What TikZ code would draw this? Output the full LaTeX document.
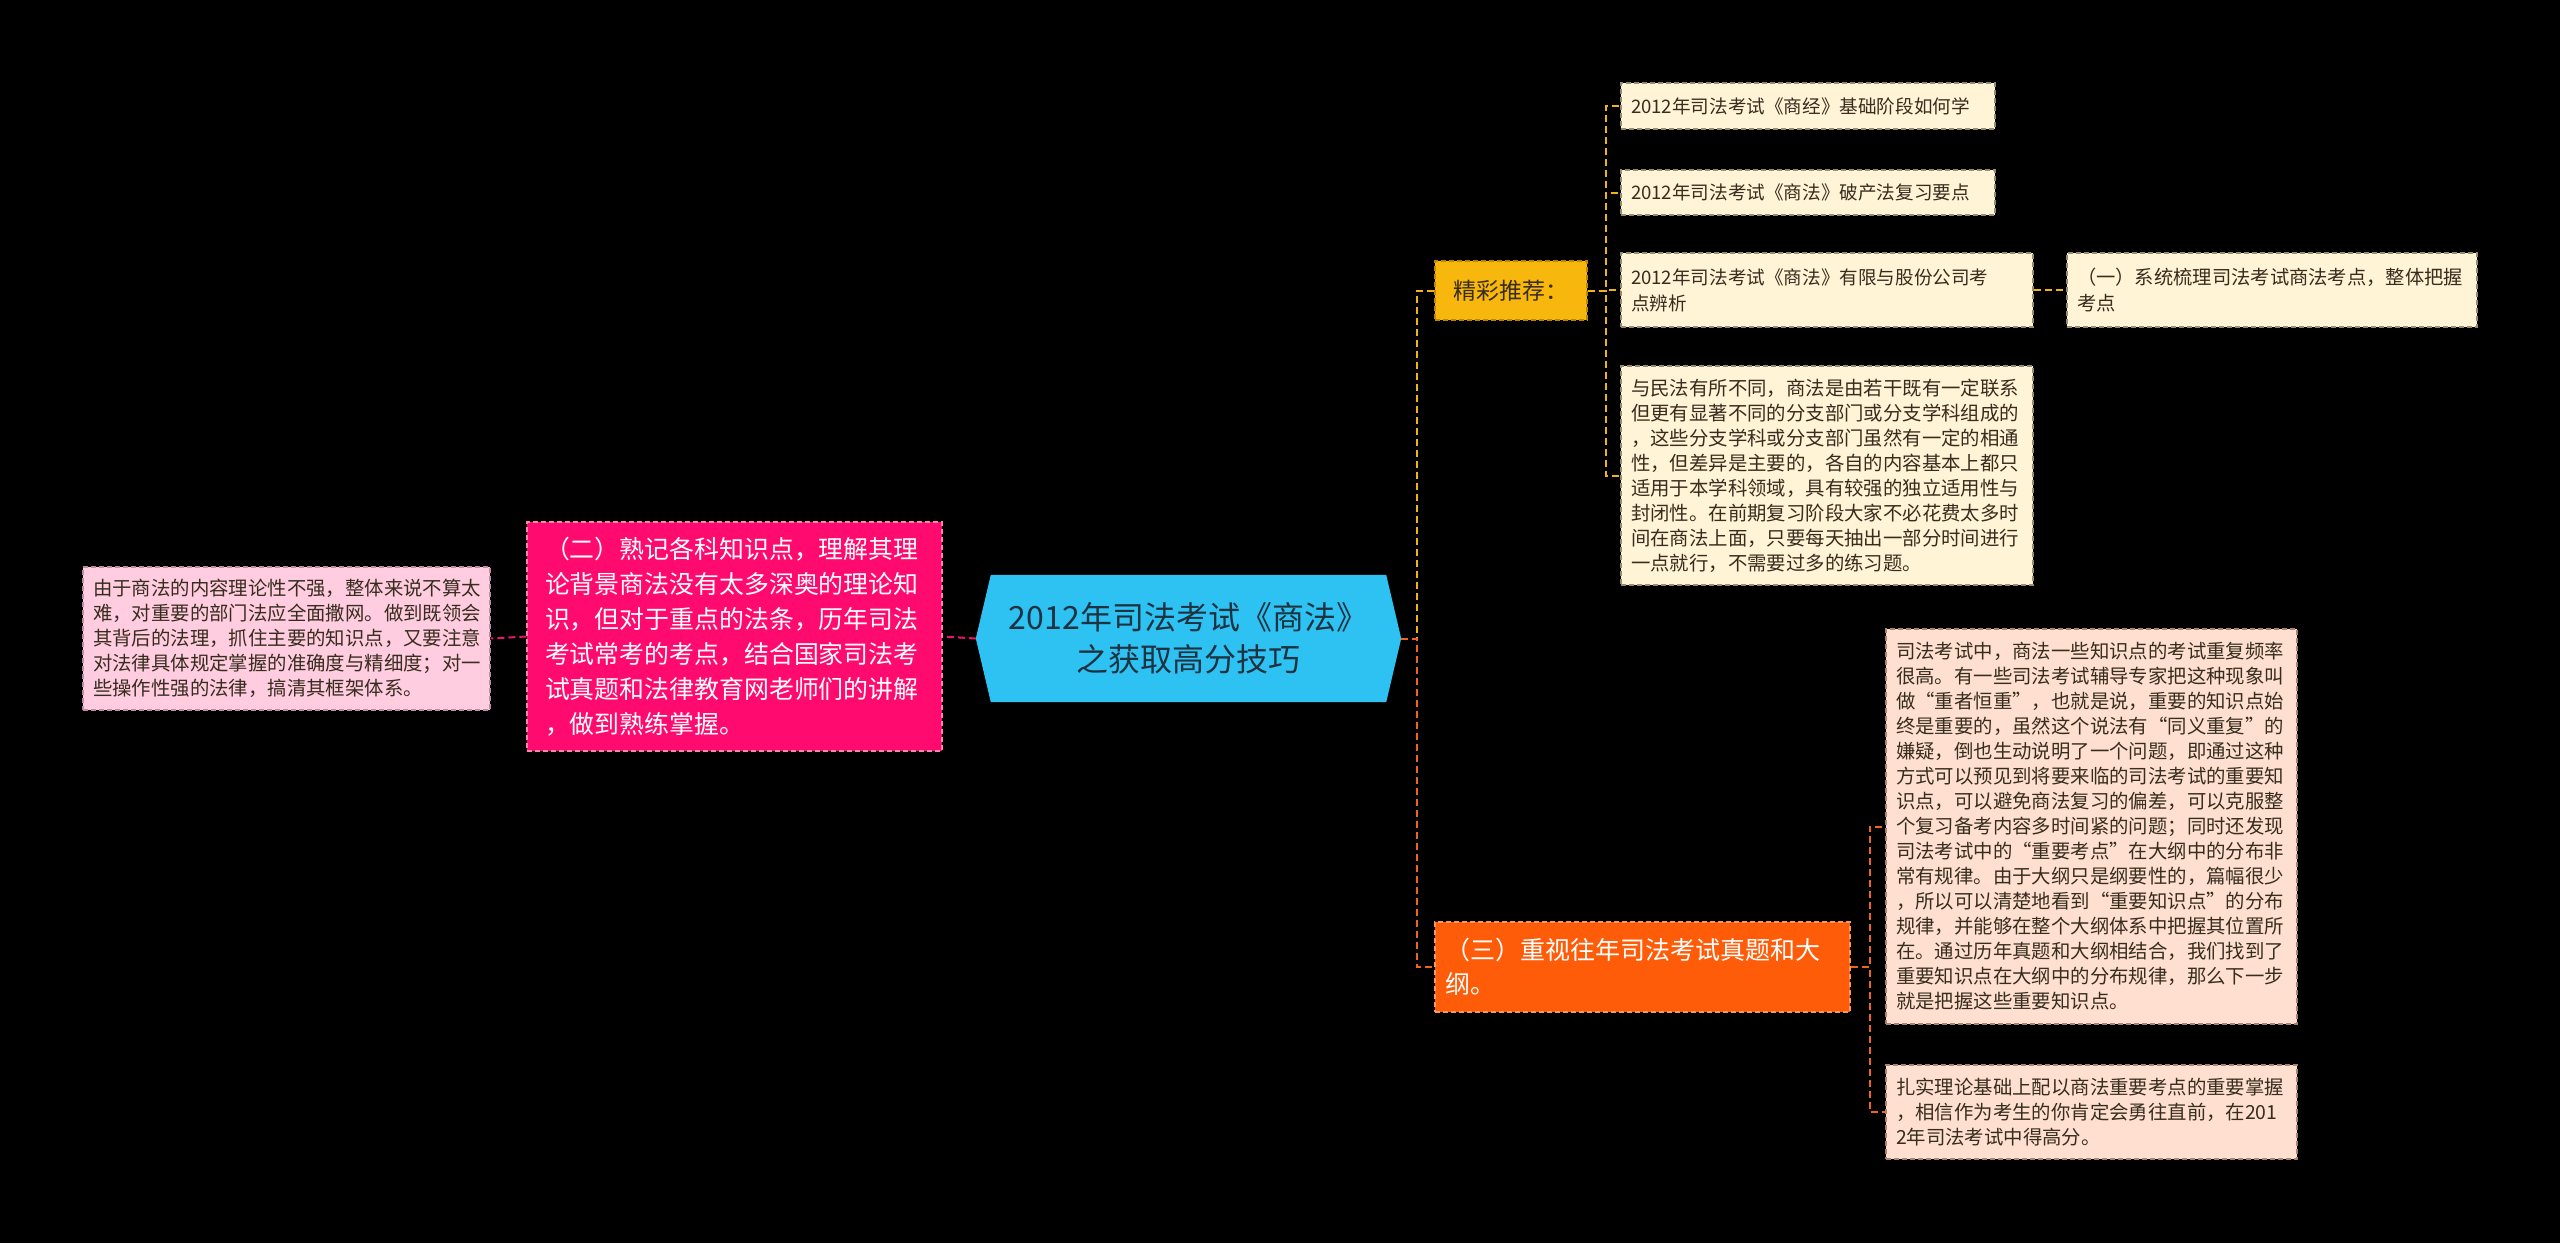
\documentclass[tikz,border=0pt]{standalone}
\usepackage{fontspec}
\setmainfont{Noto Sans CJK SC}
\newfontfamily\fwq[CharacterWidth=Full]{Noto Sans CJK SC}
\newcommand\qL{{\fwq “}}
\newcommand\qR{{\fwq ”}}
\usetikzlibrary{backgrounds}
\definecolor{bgc}{RGB}{0,0,0}
\definecolor{hexc}{RGB}{45,194,242}
\definecolor{hextx}{RGB}{30,50,65}
\definecolor{lpink}{RGB}{255,204,224}
\definecolor{lpinkb}{RGB}{190,140,160}
\definecolor{hpink}{RGB}{255,10,110}
\definecolor{hpinkb}{RGB}{255,130,175}
\definecolor{goldc}{RGB}{247,183,12}
\definecolor{goldb}{RGB}{190,135,0}
\definecolor{creamc}{RGB}{255,244,214}
\definecolor{creamb}{RGB}{150,140,110}
\definecolor{orgc}{RGB}{255,92,10}
\definecolor{orgb}{RGB}{255,150,90}
\definecolor{peachc}{RGB}{255,224,208}
\definecolor{peachb}{RGB}{170,130,110}
\definecolor{darktx}{RGB}{55,45,30}
\definecolor{magl}{RGB}{235,20,105}
\definecolor{yell}{RGB}{240,180,20}
\definecolor{oral}{RGB}{240,100,30}
\tikzset{
  bx/.style={rectangle, draw, dash pattern=on 5pt off 3pt, line width=1.3pt, align=left, inner xsep=10pt, inner ysep=0pt, anchor=center},
  small/.style={font=\fontsize{19.4}{25}\selectfont},
  link/.style={line width=2pt, dash pattern=on 7pt off 4pt},
}
\begin{document}
\begin{tikzpicture}[x=1pt,y=-1pt]
\useasboundingbox (0,0) rectangle (2560,1243);
\begin{scope}[on background layer]
\fill[bgc] (0,0) rectangle (2560,1243);
\end{scope}

% center
\node[rectangle, minimum width=425pt, minimum height=127pt, inner sep=0pt, align=center, text=hextx, font=\fontsize{32}{42}\selectfont] (c) at (1188.5,638.5) {2012年司法考试《商法》\\之获取高分技巧};
\begin{scope}[on background layer]
\fill[hexc] (c.west) -- ([xshift=15pt]c.north west) -- ([xshift=-15pt]c.north east) -- (c.east) -- ([xshift=-15pt]c.south east) -- ([xshift=15pt]c.south west) -- cycle;
\end{scope}

% left side
\node[bx, small, fill=lpink, draw=lpinkb, text=darktx, minimum width=407pt, minimum height=143pt, text width=387pt] (lp) at (286.5,638.5) {由于商法的内容理论性不强，整体来说不算太\\难，对重要的部门法应全面撒网。做到既领会\\其背后的法理，抓住主要的知识点，又要注意\\对法律具体规定掌握的准确度与精细度；对一\\些操作性强的法律，搞清其框架体系。};

\node[bx, fill=hpink, draw=hpinkb, text=white, inner xsep=18pt, minimum width=415pt, minimum height=229pt, text width=379pt, font=\fontsize{24.9}{35}\selectfont] (er) at (734.5,636.5) {（二）熟记各科知识点，理解其理\\论背景商法没有太多深奥的理论知\\识，但对于重点的法条，历年司法\\考试常考的考点，结合国家司法考\\试真题和法律教育网老师们的讲解\\，做到熟练掌握。};

% right upper branch
\node[bx, fill=goldc, draw=goldb, text=darktx, align=center, minimum width=152pt, minimum height=59pt, font=\fontsize{23}{28}\selectfont] (jc) at (1511,290.5) {精彩推荐：};

\node[bx, fill=creamc, draw=creamb, text=darktx, minimum width=374pt, minimum height=46pt, text width=354pt, font=\fontsize{18.6}{25}\selectfont] (n1) at (1808,106) {2012年司法考试《商经》基础阶段如何学};
\node[bx, fill=creamc, draw=creamb, text=darktx, minimum width=374pt, minimum height=45pt, text width=354pt, font=\fontsize{18.6}{25}\selectfont] (n2) at (1808,192.5) {2012年司法考试《商法》破产法复习要点};
\node[bx, fill=creamc, draw=creamb, text=darktx, minimum width=412pt, minimum height=74pt, text width=392pt, font=\fontsize{18.6}{26}\selectfont] (n3) at (1827,290) {2012年司法考试《商法》有限与股份公司考\\点辨析};
\node[bx, fill=creamc, draw=creamb, text=darktx, minimum width=410pt, minimum height=74pt, text width=390pt, font=\fontsize{19.3}{26}\selectfont] (yi) at (2272,290) {（一）系统梳理司法考试商法考点，整体把握\\考点};
\node[bx, small, fill=creamc, draw=creamb, text=darktx, minimum width=412pt, minimum height=219pt, text width=392pt] (n4) at (1827,475.5) {与民法有所不同，商法是由若干既有一定联系\\但更有显著不同的分支部门或分支学科组成的\\，这些分支学科或分支部门虽然有一定的相通\\性，但差异是主要的，各自的内容基本上都只\\适用于本学科领域，具有较强的独立适用性与\\封闭性。在前期复习阶段大家不必花费太多时\\间在商法上面，只要每天抽出一部分时间进行\\一点就行，不需要过多的练习题。};

% right lower branch
\node[bx, fill=orgc, draw=orgb, text=white, minimum width=415pt, minimum height=90pt, text width=395pt, font=\fontsize{25}{34}\selectfont] (san) at (1642.5,967) {（三）重视往年司法考试真题和大\\纲。};

\node[bx, small, fill=peachc, draw=peachb, text=darktx, minimum width=411pt, minimum height=395pt, text width=391pt] (k1) at (2091.5,826.5) {司法考试中，商法一些知识点的考试重复频率\\很高。有一些司法考试辅导专家把这种现象叫\\做\qL 重者恒重\qR ，也就是说，重要的知识点始\\终是重要的，虽然这个说法有\qL 同义重复\qR 的\\嫌疑，倒也生动说明了一个问题，即通过这种\\方式可以预见到将要来临的司法考试的重要知\\识点，可以避免商法复习的偏差，可以克服整\\个复习备考内容多时间紧的问题；同时还发现\\司法考试中的\qL 重要考点\qR 在大纲中的分布非\\常有规律。由于大纲只是纲要性的，篇幅很少\\，所以可以清楚地看到\qL 重要知识点\qR 的分布\\规律，并能够在整个大纲体系中把握其位置所\\在。通过历年真题和大纲相结合，我们找到了\\重要知识点在大纲中的分布规律，那么下一步\\就是把握这些重要知识点。};
\node[bx, small, fill=peachc, draw=peachb, text=darktx, minimum width=411pt, minimum height=94pt, text width=391pt] (k2) at (2091.5,1112) {扎实理论基础上配以商法重要考点的重要掌握\\，相信作为考生的你肯定会勇往直前，在201\\2年司法考试中得高分。};

% connectors
\begin{scope}[on background layer]
\draw[link, magl] (c.west) -- (er.east);
\draw[link, magl] (er.west) -- (lp.east);
\draw[link, yell] (c.east) -- ++(16,0) |- (jc.west);
\draw[link, oral] (c.east) -- ++(16,0) |- (san.west);
\draw[link, yell] (jc.east) -- ++(18,0) |- (n1.west);
\draw[link, yell] (jc.east) -- ++(18,0) |- (n2.west);
\draw[link, yell] (jc.east) -- ++(18,0) |- (n3.west);
\draw[link, yell] (jc.east) -- ++(18,0) |- (n4.west);
\draw[link, yell] (n3.east) -- (yi.west);
\draw[link, oral] (san.east) -- ++(19,0) |- (k1.west);
\draw[link, oral] (san.east) -- ++(19,0) |- (k2.west);
\end{scope}
\end{tikzpicture}
\end{document}
